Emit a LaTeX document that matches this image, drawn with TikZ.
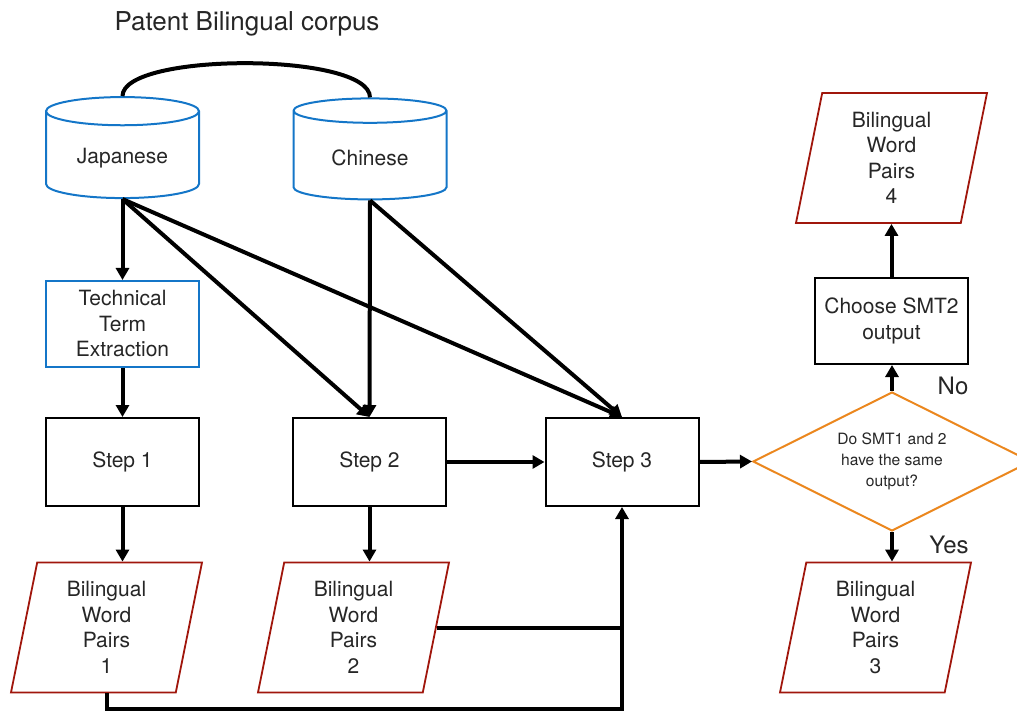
\documentclass[tikz,border=0pt]{standalone}
\usepackage{fontspec}
\setmainfont{TeX Gyre Heros}
\usepackage{xcolor}
\usetikzlibrary{shapes.geometric}
\usetikzlibrary{arrows.meta,calc}

\definecolor{dbblue}{RGB}{20,118,200}
\definecolor{pairred}{RGB}{160,22,12}
\definecolor{askorange}{RGB}{235,135,30}

\begin{document}
\begin{tikzpicture} [
       x=0.5pt, y=-0.5pt,
       every node/.style={text=black!85, font=\fontsize{10.5}{12.75}\selectfont},
       corpus/.style={cylinder, shape border rotate=90, draw=dbblue, line width=1pt,
               aspect=0.27, minimum width=76.5pt, minimum height=50.5pt},
       process/.style={rectangle, draw=black, line width=1pt,
               minimum width=76.5pt, minimum height=44pt, align=center},
       extract/.style={process, draw=dbblue, minimum height=43pt},
       pairs/.style={trapezium, trapezium left angle=76, trapezium right angle=104,
               trapezium stretches body, draw=pairred, line width=0.9pt,
               minimum width=95.5pt, minimum height=65pt, align=center},
       question/.style={diamond, draw=askorange, line width=1pt, aspect=2,
               minimum width=139pt, minimum height=69.5pt, align=center,
               font=\fontsize{7.8}{10.5}\selectfont},
       answer/.style={font=\fontsize{12}{14}\selectfont},
       line/.style     = { draw, line width=2pt, -{Triangle[length=6pt,width=6.5pt]} },
       ]
       \useasboundingbox (0,0) rectangle (1017,711);
       \node (title) [answer, font=\fontsize{13}{15}\selectfont] at (247,24) {Patent Bilingual corpus};
       \node (jp) [corpus] at (122.5,158) {Japanese};
       \node (cn) [corpus] at (370,158) {Chinese};
       \node (tte) [extract] at (122.5,324) {Technical\\Term\\Extraction};
       \node (step1) [process] at (122.5,462) {Step 1};
       \node (step2) [process] at (369.5,462) {Step 2};
       \node (step3) [process] at (622,462) {Step 3};
       \node (same) [question] at (892,461.5) {Do SMT1 and 2\\have the same\\output?};
       \node (choose) [process, minimum height=43pt] at (891.5,321) {Choose SMT2\\output};
       \node (wp1) [pairs] at (106.5,627.5) {Bilingual\\Word\\Pairs\\1};
       \node (wp2) [pairs] at (353.5,627.5) {Bilingual\\Word\\Pairs\\2};
       \node (wp3) [pairs] at (875.5,627.5) {Bilingual\\Word\\Pairs\\3};
       \node (wp4) [pairs] at (891.5,158) {Bilingual\\Word\\Pairs\\4};
       \node (no) [answer] at (953,386) {No};
       \node (yes) [answer] at (949,545) {Yes};
       \draw [line width=2pt] (jp.north) .. controls (122.5,52) and (370,52) .. (cn.north);
        \begin{scope}[every path/.style=line]
        \path (jp.south) -- (tte.north);
        \path (jp.south) -- (step2.north);
        \path (jp.south) -- (step3.north);
        \path (cn.south) -- (step2.north);
        \path (cn.south) -- (step3.north);
        \path (tte.south) -- (step1.north);
        \path (step1.south) -- (step1.south |- wp1.north);
        \path (step2.south) -- (step2.south |- wp2.north);
        \path (step2.east) -- (step3.west);
        \path (step3.east) -- (same.west);
        \path (same.north) -- (same.north |- choose.south);
        \path (choose.north) -- (choose.north |- wp4.south);
        \path (same.south) -- (same.south |- wp3.north);
        \path (wp1.south) -- ++(0,16) -| (step3.south);
        \end{scope}
        \draw [line width=2pt] (wp2.east) -- (wp2.east -| step3.south);
\end{tikzpicture}
\end{document}
